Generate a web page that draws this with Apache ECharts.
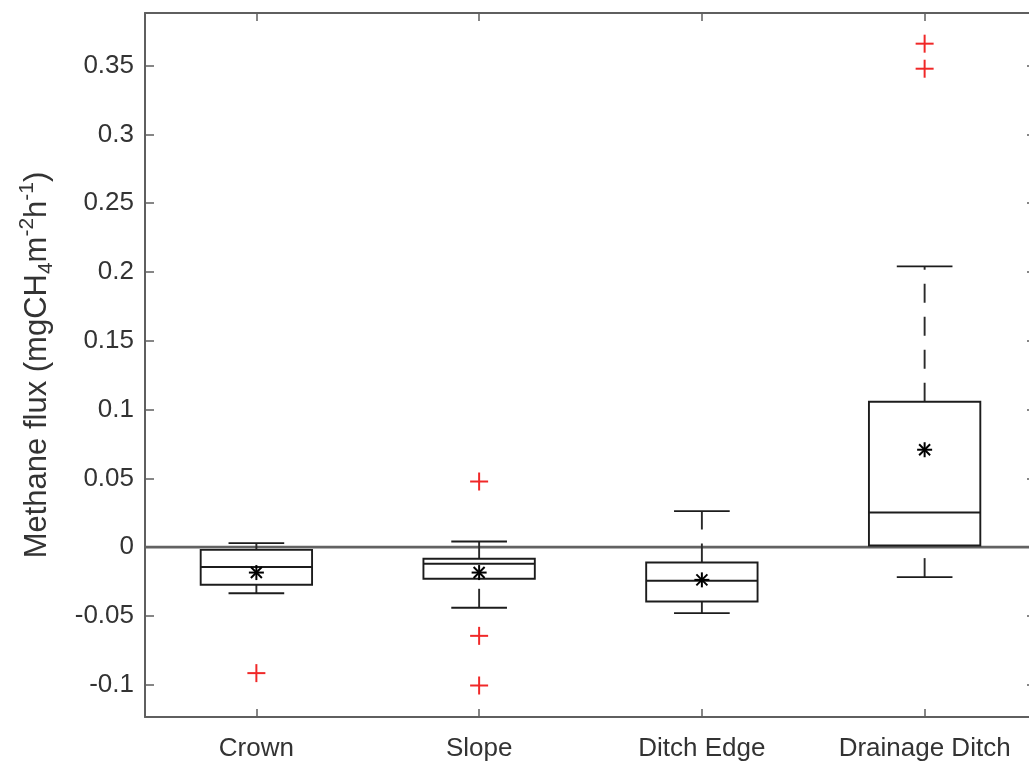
<!DOCTYPE html>
<html>
<head>
<meta charset="utf-8">
<script src="https://cdn.jsdelivr.net/npm/echarts@6/dist/echarts.min.js"></script>
<style>
  html, body { margin: 0; padding: 0; background: #fff; }
  #chart { width: 1029px; height: 762px; }
</style>
</head>
<body>
<div id="chart"></div>
<script>
// Methane flux by landscape position (box-and-whisker summary)
const categories = ['Crown', 'Slope', 'Ditch Edge', 'Drainage Ditch'];
const lowerWhisker = [-0.0335, -0.0441, -0.0480, -0.0218];
const quartile1 = [-0.0274, -0.0230, -0.0395, 0.0012];
const medians = [-0.0145, -0.0121, -0.0245, 0.0252];
const quartile3 = [-0.0020, -0.0085, -0.0112, 0.1057];
const upperWhisker = [0.0029, 0.0041, 0.0262, 0.2041];
const means = [-0.0185, -0.0185, -0.0238, 0.0708];
const outlierCategory = [0, 1, 1, 1, 3, 3];
const outlierValue = [-0.0916, 0.0477, -0.0645, -0.1006, 0.3660, 0.3478];
const yTicks = [-0.1, -0.05, 0, 0.05, 0.1, 0.15, 0.2, 0.25, 0.3, 0.35];

const Y_MIN = -0.1235;
const Y_MAX = 0.3883;

const FONT = '"Liberation Sans", Arial, Helvetica, sans-serif';
const AXIS_GREY = '#5f5f5f';
const TEXT_GREY = '#333333';
const INK = '#1c1c1c';

const boxRows = categories.map((c, i) => [i, lowerWhisker[i], quartile1[i], medians[i], quartile3[i], upperWhisker[i]]);
const meanRows = categories.map((c, i) => [i, means[i]]);
const outlierRows = outlierValue.map((v, k) => [outlierCategory[k], v]);

function renderBox(params, api) {
  const i = api.value(0);
  const lw = api.value(1), q1 = api.value(2), md = api.value(3), q3 = api.value(4), uw = api.value(5);
  const band = api.size([1, 0])[0];
  const cx = api.coord([i, 0])[0];
  const half = band * 0.25;
  const capHalf = band * 0.125;
  const y = v => api.coord([i, v])[1];
  const solid = { stroke: INK, lineWidth: 1.9, fill: null };
  const dashed = { stroke: '#2a2a2a', lineWidth: 1.9, lineDash: [19, 14], fill: null };
  return {
    type: 'group',
    children: [
      // whiskers start at the lower end so the dash pattern runs upward
      { type: 'line', shape: { x1: cx, y1: y(lw), x2: cx, y2: y(q1) }, style: dashed },
      { type: 'line', shape: { x1: cx, y1: y(q3), x2: cx, y2: y(uw) }, style: dashed },
      { type: 'line', shape: { x1: cx - capHalf, y1: y(lw), x2: cx + capHalf, y2: y(lw) }, style: solid },
      { type: 'line', shape: { x1: cx - capHalf, y1: y(uw), x2: cx + capHalf, y2: y(uw) }, style: solid },
      { type: 'rect', shape: { x: cx - half, y: y(q3), width: 2 * half, height: y(q1) - y(q3) }, style: solid },
      { type: 'line', shape: { x1: cx - half, y1: y(md), x2: cx + half, y2: y(md) }, style: solid }
    ]
  };
}

function renderStar(params, api) {
  const p = api.coord([api.value(0), api.value(1)]);
  const r = 7.5, d = 5.5;
  const st = { stroke: '#000', lineWidth: 2 };
  return {
    type: 'group',
    children: [
      { type: 'line', shape: { x1: p[0] - r, y1: p[1], x2: p[0] + r, y2: p[1] }, style: st },
      { type: 'line', shape: { x1: p[0], y1: p[1] - r, x2: p[0], y2: p[1] + r }, style: st },
      { type: 'line', shape: { x1: p[0] - d, y1: p[1] - d, x2: p[0] + d, y2: p[1] + d }, style: st },
      { type: 'line', shape: { x1: p[0] - d, y1: p[1] + d, x2: p[0] + d, y2: p[1] - d }, style: st }
    ]
  };
}

function renderPlus(params, api) {
  const p = api.coord([api.value(0), api.value(1)]);
  const r = 9;
  const st = { stroke: '#f02828', lineWidth: 2 };
  return {
    type: 'group',
    children: [
      { type: 'line', shape: { x1: p[0] - r, y1: p[1], x2: p[0] + r, y2: p[1] }, style: st },
      { type: 'line', shape: { x1: p[0], y1: p[1] - r, x2: p[0], y2: p[1] + r }, style: st }
    ]
  };
}

function renderZeroLine(params, api) {
  const cs = params.coordSys;
  const yz = api.coord([0, 0])[1];
  return {
    type: 'line',
    shape: { x1: cs.x, y1: yz, x2: cs.x + cs.width, y2: yz },
    style: { stroke: '#626262', lineWidth: 2.6 }
  };
}

const tickFmt = v => String(Math.round(v * 100) / 100);

const chart = echarts.init(document.getElementById('chart'), null, { renderer: 'canvas' });

chart.setOption({
  animation: false,
  backgroundColor: '#ffffff',
  textStyle: { fontFamily: FONT },
  grid: { left: 145, top: 13, width: 891, height: 704, outerBoundsMode: 'none', containLabel: false },
  xAxis: [
    {
      type: 'category',
      data: categories,
      position: 'bottom',
      boundaryGap: true,
      axisLine: { show: true, onZero: false, lineStyle: { color: AXIS_GREY, width: 2 } },
      axisTick: { show: true, inside: true, alignWithLabel: true, length: 8, lineStyle: { color: AXIS_GREY, width: 1.5 } },
      axisLabel: { color: TEXT_GREY, fontSize: 26, fontFamily: FONT, margin: 19, interval: 0 },
      splitLine: { show: false }
    },
    {
      type: 'category',
      data: categories,
      position: 'top',
      boundaryGap: true,
      axisLine: { show: true, onZero: false, lineStyle: { color: AXIS_GREY, width: 2 } },
      axisTick: { show: true, inside: true, alignWithLabel: true, length: 8, lineStyle: { color: AXIS_GREY, width: 1.5 } },
      axisLabel: { show: false },
      splitLine: { show: false }
    }
  ],
  yAxis: [
    {
      type: 'value',
      position: 'left',
      min: Y_MIN,
      max: Y_MAX,
      axisLine: { show: true, onZero: false, lineStyle: { color: AXIS_GREY, width: 2 } },
      axisTick: { show: true, inside: true, length: 9, customValues: yTicks, lineStyle: { color: AXIS_GREY, width: 1.5 } },
      axisLabel: { color: TEXT_GREY, fontSize: 26, fontFamily: FONT, margin: 11, customValues: yTicks, formatter: tickFmt },
      splitLine: { show: false },
      name: '{t|Methane flux (mgCH}{sub|4}{t|m}{sup|-2}{t|h}{sup|-1}{t|)}',
      nameLocation: 'middle',
      nameRotate: 90,
      nameGap: 88,
      nameTextStyle: {
        rich: {
          t: { fontSize: 31, fontFamily: FONT, color: TEXT_GREY, lineHeight: 40 },
          sub: { fontSize: 21, fontFamily: FONT, color: TEXT_GREY, lineHeight: 21, verticalAlign: 'bottom' },
          sup: { fontSize: 21, fontFamily: FONT, color: TEXT_GREY, lineHeight: 21, verticalAlign: 'top' }
        }
      }
    },
    {
      type: 'value',
      position: 'right',
      min: Y_MIN,
      max: Y_MAX,
      axisLine: { show: true, onZero: false, lineStyle: { color: AXIS_GREY, width: 2 } },
      axisTick: { show: true, inside: true, length: 9, customValues: yTicks, lineStyle: { color: AXIS_GREY, width: 1.5 } },
      axisLabel: { show: false },
      splitLine: { show: false }
    }
  ],
  series: [
    {
      name: 'zero',
      type: 'custom',
      renderItem: renderZeroLine,
      data: [[0, 0]],
      encode: { x: 0, y: 1 },
      silent: true,
      z: 1
    },
    {
      name: 'boxes',
      type: 'custom',
      renderItem: renderBox,
      data: boxRows,
      encode: { x: 0, y: [1, 2, 3, 4, 5] },
      z: 2
    },
    {
      name: 'mean',
      type: 'custom',
      renderItem: renderStar,
      data: meanRows,
      encode: { x: 0, y: 1 },
      z: 3
    },
    {
      name: 'outliers',
      type: 'custom',
      renderItem: renderPlus,
      data: outlierRows,
      encode: { x: 0, y: 1 },
      z: 3
    }
  ]
});
</script>
</body>
</html>
